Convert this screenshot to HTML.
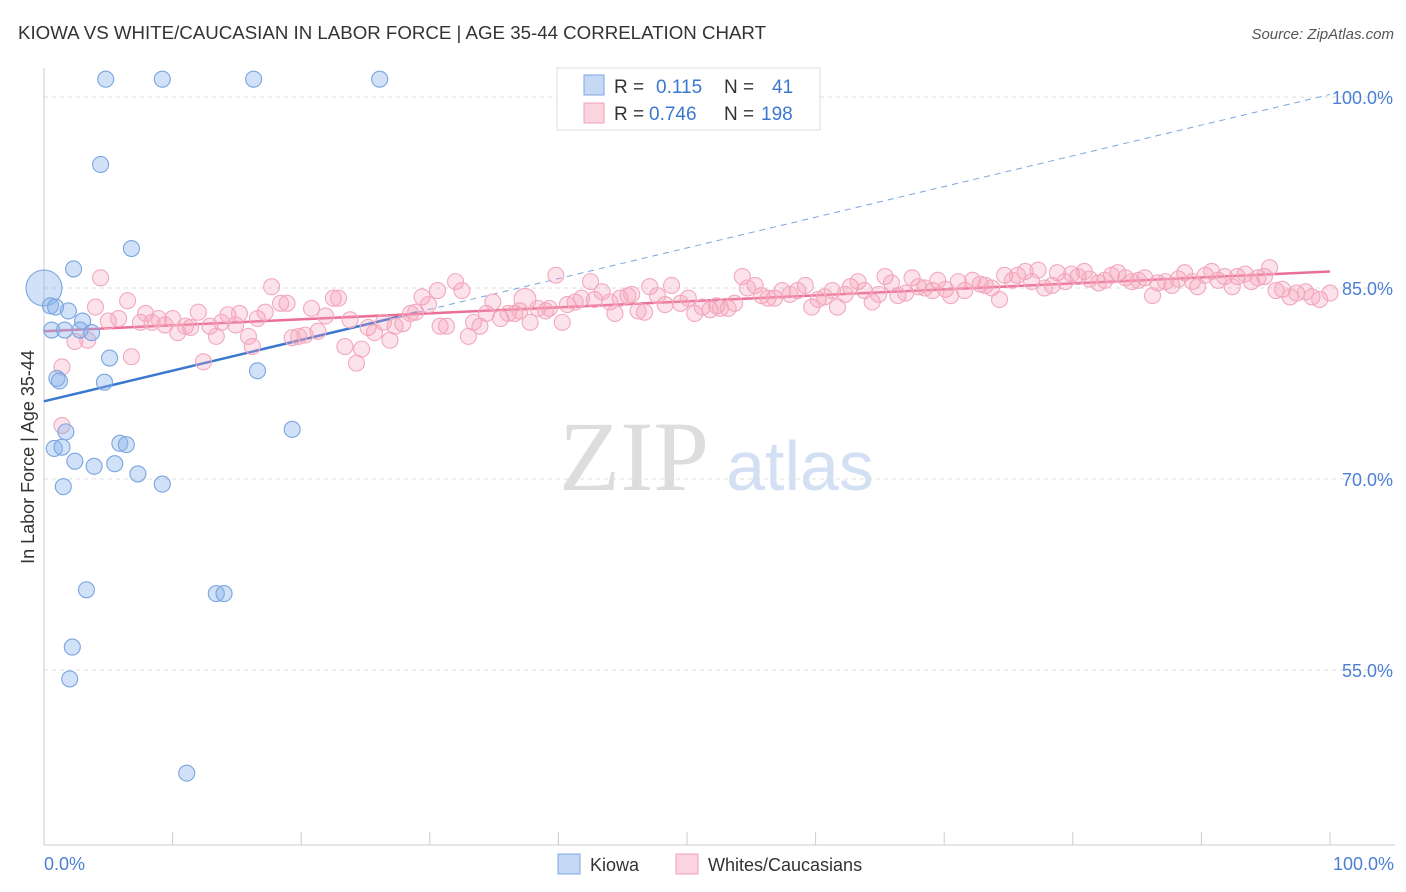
<!DOCTYPE html>
<html><head><meta charset="utf-8"><style>
body{margin:0;background:#fff;font-family:"Liberation Sans",sans-serif;}
#wrap{position:relative;width:1406px;height:892px;overflow:hidden;}
</style></head><body>
<div id="wrap">
<svg id="chart" width="1406" height="892" font-family="Liberation Sans, sans-serif">
<text x="18" y="39" font-size="18.7" fill="#333">KIOWA VS WHITE/CAUCASIAN IN LABOR FORCE | AGE 35-44 CORRELATION CHART</text>
<text x="1394" y="39" font-size="15" fill="#555" font-style="italic" text-anchor="end">Source: ZipAtlas.com</text>
<text x="634" y="490" font-size="100" fill="#ddd" font-family="Liberation Serif, serif" text-anchor="middle">ZIP</text>
<text x="800" y="490" font-size="70" fill="#d3e0f3" text-anchor="middle">atlas</text>
<g id="grid"></g><g id="axes"></g><g id="trends"></g><g id="pts"></g>
<text transform="translate(34,457) rotate(-90)" font-size="18" fill="#333" text-anchor="middle">In Labor Force | Age 35-44</text>
<text x="44" y="870" font-size="18" fill="#4a7fd4">0.0%</text>
<text x="1394" y="870" font-size="18" fill="#4a7fd4" text-anchor="end">100.0%</text>
<g>
<rect x="558" y="854" width="22" height="20" fill="rgba(140,180,235,0.5)" stroke="#7aa5e0"/>
<text x="590" y="871" font-size="18" fill="#333">Kiowa</text>
<rect x="676" y="854" width="22" height="20" fill="rgba(244,160,185,0.45)" stroke="#f0a0b8"/>
<text x="708" y="871" font-size="18" fill="#333">Whites/Caucasians</text>
</g>
<g>
<rect x="557" y="68" width="263" height="62" fill="#fff" stroke="#ddd"/>
<rect x="584" y="75" width="20" height="20" fill="rgba(140,180,235,0.5)" stroke="#7aa5e0"/>
<text x="614" y="93" font-size="19" fill="#333">R = </text><text x="656" y="93" font-size="19" fill="#3a78d0">0.115</text>
<text x="724" y="93" font-size="19" fill="#333">N = </text><text x="772" y="93" font-size="19" fill="#3a78d0">41</text>
<rect x="584" y="103" width="20" height="20" fill="rgba(244,160,185,0.45)" stroke="#f0a0b8"/>
<text x="614" y="120" font-size="19" fill="#333">R = </text><text x="649" y="120" font-size="19" fill="#3a78d0">0.746</text>
<text x="724" y="120" font-size="19" fill="#333">N = </text><text x="761" y="120" font-size="19" fill="#3a78d0">198</text>
</g>
</svg></div>
<script>
const yTicks=[100,85,70,55];
const yTickLabels=["100.0%","85.0%","70.0%","55.0%"];
const xTicks=[0,10,20,30,40,50,60,70,80,90,100];
const kiowaX=[4.8,9.2,16.3,26.1,4.4,6.8,2.3,0,0.5,0.9,1.9,3.0,0.6,1.6,2.8,3.7,5.1,16.6,1.0,1.2,4.7,1.7,0.8,1.4,5.9,6.4,2.4,3.9,5.5,7.3,1.5,9.2,19.3,3.3,13.4,14.0,2.2,2.0,11.1];
const kiowaY=[101.4,101.4,101.4,101.4,94.7,88.1,86.5,85.0,83.6,83.5,83.2,82.4,81.7,81.7,81.7,81.5,79.5,78.5,77.9,77.7,77.6,73.7,72.4,72.5,72.8,72.7,71.4,71.0,71.2,70.4,69.4,69.6,73.9,61.3,61.0,61.0,56.8,54.3,46.9];
const whiteX=[1.4,1.4,2.4,3.4,4.0,4.4,5.0,5.8,6.5,6.8,7.5,7.9,8.4,8.9,9.4,10.0,10.4,11.0,11.4,12.0,12.4,12.9,13.4,13.8,14.3,14.9,15.2,15.9,16.2,16.6,17.2,17.7,18.4,18.9,19.3,19.8,20.3,20.8,21.3,21.9,22.5,22.9,23.4,23.8,24.3,24.7,25.2,25.7,26.4,26.9,27.3,27.9,28.5,28.9,29.4,29.9,30.6,30.8,31.3,32.0,32.5,33.0,33.4,33.9,34.4,34.9,35.5,36.1,36.6,37.0,37.4,37.8,38.4,39.0,39.3,39.8,40.3,40.7,41.3,41.8,42.5,42.8,43.4,44.0,44.4,44.8,45.4,45.7,46.2,46.7,47.1,47.7,48.3,48.8,49.5,50.1,50.6,51.2,51.8,52.3,52.6,53.2,53.7,54.3,54.7,55.3,55.8,56.3,56.8,57.4,58.0,58.6,59.2,59.7,60.2,60.7,61.3,61.7,62.3,62.7,63.3,63.8,64.4,64.9,65.4,65.9,66.4,67.0,67.5,68.0,68.5,69.1,69.5,70.1,70.5,71.1,71.6,72.2,72.8,73.2,73.7,74.3,74.7,75.3,75.7,76.3,76.8,77.3,77.8,78.4,78.8,79.4,79.9,80.4,80.9,81.3,82.0,82.5,83.0,83.5,84.1,84.6,85.1,85.6,86.2,86.6,87.2,87.7,88.2,88.7,89.3,89.7,90.3,90.8,91.3,91.8,92.4,92.8,93.4,93.9,94.4,94.9,95.3,95.8,96.3,96.9,97.4,98.1,98.6,99.2,100];
const whiteY=[78.8,74.2,80.8,80.9,83.5,85.8,82.4,82.6,84.0,79.6,82.3,83.0,82.3,82.6,82.1,82.6,81.5,82.0,81.9,83.1,79.2,82.0,81.2,82.3,82.9,82.1,83.0,81.2,80.4,82.6,83.1,85.1,83.8,83.8,81.1,81.2,81.3,83.4,81.6,82.8,84.2,84.2,80.4,82.5,79.1,80.2,81.9,81.5,82.3,80.9,82.0,82.2,83.0,83.1,84.3,83.7,84.8,82.0,82.0,85.5,84.8,81.2,82.3,82.0,83.0,83.9,82.6,83.0,83.0,83.2,84.1,82.3,83.4,83.2,83.4,86.0,82.3,83.7,83.9,84.2,85.5,84.1,84.7,83.9,83.0,84.2,84.4,84.5,83.2,83.1,85.1,84.4,83.7,85.2,83.8,84.2,83.0,83.5,83.3,83.6,83.4,83.4,83.8,85.9,85.0,85.2,84.4,84.2,84.2,84.8,84.5,84.8,85.2,83.5,84.1,84.3,84.8,83.5,84.5,85.1,85.5,84.8,83.9,84.5,85.9,85.4,84.4,84.6,85.8,85.1,85.0,84.8,85.6,84.9,84.4,85.5,84.8,85.6,85.3,85.2,85.0,84.1,86.0,85.6,86.0,86.3,85.5,86.4,85.0,85.2,86.2,85.5,86.1,85.9,86.3,85.7,85.4,85.6,86.0,86.2,85.8,85.5,85.6,85.8,84.4,85.4,85.5,85.2,85.7,86.2,85.5,85.1,86.0,86.3,85.6,85.9,85.1,85.9,86.1,85.5,85.8,85.9,86.6,84.8,84.9,84.3,84.6,84.7,84.3,84.1,84.6];
const kiowaTrend=[76.1,100.2];
const whiteTrend=[81.6,86.3];
const NS="http://www.w3.org/2000/svg";
const X0=44,X1=1330;
function xs(v){return X0+(X1-X0)*v/100;}
function ys(v){return 97+(100-v)*191/15;}
function mk(tag,attrs,parent){const e=document.createElementNS(NS,tag);for(const k in attrs)e.setAttribute(k,attrs[k]);document.getElementById(parent).appendChild(e);return e;}
yTicks.forEach((t,i)=>{
  const l=mk('line',{x1:44,x2:1395,y1:ys(t),y2:ys(t),stroke:'#ddd','stroke-dasharray':'4,4'},'grid');
  
  
  const tx=mk('text',{x:1393,y:ys(t)+7,'font-size':18,fill:'#4a7fd4','text-anchor':'end'},'grid');
  tx.textContent=yTickLabels[i];
  
  
});
const ax=mk('line',{x1:44,x2:44,y1:68,y2:845,stroke:'#ccc'},'axes');


const bx=mk('line',{x1:44,x2:1395,y1:845,y2:845,stroke:'#ccc'},'axes');


xTicks.forEach(t=>{
  const l=mk('line',{x1:xs(t),x2:xs(t),y1:832,y2:845,stroke:'#ccc'},'axes');
  
  
});
const xb=29;
const yb=kiowaTrend[0]+(kiowaTrend[1]-kiowaTrend[0])*xb/100;
const t1=mk('line',{x1:xs(0),y1:ys(kiowaTrend[0]),x2:xs(xb),y2:ys(yb),stroke:'#3a78d0','stroke-width':2.5},'trends');


const t2=mk('line',{x1:xs(xb),y1:ys(yb),x2:xs(100),y2:ys(kiowaTrend[1]),stroke:'#7aa5e0','stroke-width':1,'stroke-dasharray':'6,5'},'trends');


const t3=mk('line',{x1:xs(0),y1:ys(whiteTrend[0]),x2:xs(100),y2:ys(whiteTrend[1]),stroke:'#ea6f96','stroke-width':2.5},'trends');


whiteX.forEach((x,i)=>{
  const r=(Math.abs(x-37.4)<0.01)?11:8;
  const c=mk('circle',{cx:xs(x),cy:ys(whiteY[i]),r:r,fill:'rgba(244,160,185,0.3)',stroke:'#f2a8be','stroke-width':1.1},'pts');
  
  
});
kiowaX.forEach((x,i)=>{
  const r=(x===0)?18:8;
  const c=mk('circle',{cx:xs(x),cy:ys(kiowaY[i]),r:r,fill:'rgba(140,180,235,0.4)',stroke:'#7aa5e0','stroke-width':1.1},'pts');
  
  
});
</script>
</body></html>
